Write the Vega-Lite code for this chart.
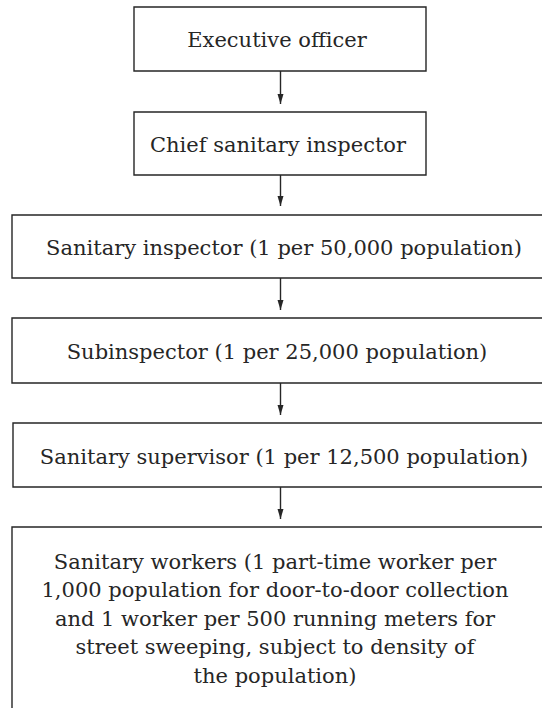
{
  "$schema": "https://vega.github.io/schema/vega-lite/v6.json",
  "width": 542,
  "height": 708,
  "autosize": {"type": "fit", "contains": "padding"},
  "padding": 0,
  "background": "white",
  "config": {"view": {"stroke": null}},
  "datasets": {
    "boxes": [
      {"x0": 134, "x1": 426, "y0": 7, "y1": 71},
      {"x0": 134, "x1": 426, "y0": 112, "y1": 175},
      {"x0": 12, "x1": 560, "y0": 215, "y1": 278},
      {"x0": 12, "x1": 560, "y0": 318, "y1": 383},
      {"x0": 13, "x1": 560, "y0": 423, "y1": 487},
      {"x0": 12, "x1": 560, "y0": 527, "y1": 740}
    ],
    "arrows": [
      {"x": 280.5, "y0": 71, "y1": 104},
      {"x": 280.5, "y0": 175, "y1": 206},
      {"x": 280.5, "y0": 278, "y1": 310},
      {"x": 280.5, "y0": 383, "y1": 415},
      {"x": 280.5, "y0": 487, "y1": 519}
    ],
    "labels": [
      {"text": "Executive officer", "x": 277, "y": 46.5},
      {"text": "Chief sanitary inspector", "x": 278, "y": 151.5},
      {"text": "Sanitary inspector (1 per 50,000 population)", "x": 284, "y": 255},
      {"text": "Subinspector (1 per 25,000 population)", "x": 277, "y": 359},
      {"text": "Sanitary supervisor (1 per 12,500 population)", "x": 284, "y": 463.5},
      {"text": "Sanitary workers (1 part-time worker per\n1,000 population for door-to-door collection\nand 1 worker per 500 running meters for\nstreet sweeping, subject to density of\nthe population)", "x": 275, "y": 568.5}
    ]
  },
  "layer": [
    {
      "data": {"name": "boxes"},
      "mark": {"type": "rect", "fill": "white", "stroke": "#262626", "strokeWidth": 1.4, "clip": true},
      "encoding": {
        "x": {"field": "x0", "type": "quantitative", "scale": {"domain": [0, 542], "nice": false, "zero": false}, "axis": null},
        "x2": {"field": "x1"},
        "y": {"field": "y0", "type": "quantitative", "scale": {"domain": [0, 708], "nice": false, "zero": false, "reverse": true}, "axis": null},
        "y2": {"field": "y1"}
      }
    },
    {
      "data": {"name": "arrows"},
      "mark": {"type": "rule", "stroke": "#262626", "strokeWidth": 1.4},
      "encoding": {
        "x": {"field": "x", "type": "quantitative"},
        "y": {"field": "y0", "type": "quantitative"},
        "y2": {"field": "y1"}
      }
    },
    {
      "data": {"name": "arrows"},
      "mark": {"type": "point", "shape": "M-0.6,-2L0.6,-2L0,0Z", "filled": true, "fill": "#262626", "strokeWidth": 0, "opacity": 1, "size": 100},
      "encoding": {
        "x": {"field": "x", "type": "quantitative"},
        "y": {"field": "y1", "type": "quantitative"}
      }
    },
    {
      "data": {"name": "labels"},
      "mark": {"type": "text", "font": "DejaVu Serif", "fontSize": 21, "fill": "#262626", "align": "center", "baseline": "alphabetic", "lineBreak": "\n", "lineHeight": 28.6},
      "encoding": {
        "x": {"field": "x", "type": "quantitative"},
        "y": {"field": "y", "type": "quantitative"},
        "text": {"field": "text"}
      }
    }
  ]
}
